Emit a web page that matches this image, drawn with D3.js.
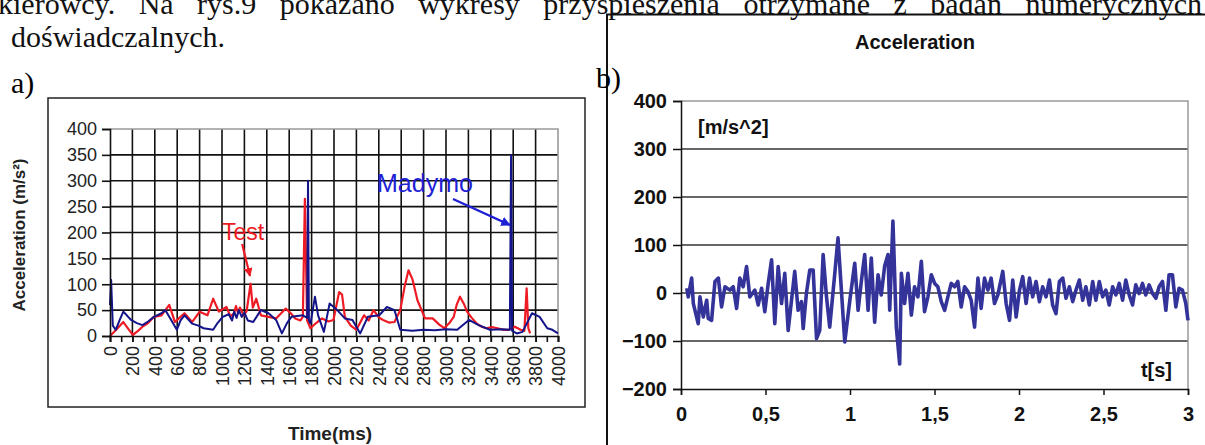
<!DOCTYPE html>
<html>
<head>
<meta charset="utf-8">
<script src="https://cdnjs.cloudflare.com/ajax/libs/d3/7.8.5/d3.min.js"></script>
<style>
body { margin: 0; background: #fff; }
svg { display: block; }
</style>
</head>
<body>
<div id="canvas"></div>
<script>
"use strict"

/* page size */
let svgWidth = 1205;
let svgHeight = 445;

/* text of the page above the figures */
let headerLine1 = "kierowcy. Na rys.9 pokazano wykresy przyspieszenia otrzymane z badań numerycznych";
let headerLine2 = "doświadczalnych.";

/* chart a) - Test vs Madymo, time in ms, acceleration in m/s2 */
let timeTest = [0, 51, 119, 170, 205, 250, 290, 340, 392, 460,
    529, 580, 620, 665, 733, 801, 870, 921, 972, 1040,
    1075, 1108, 1125, 1142, 1160, 1194, 1220, 1255, 1275, 1306,
    1347, 1415, 1483, 1569, 1610, 1654, 1700, 1722, 1740, 1760,
    1790, 1840, 1893, 1950, 1995, 2046, 2072, 2097, 2150, 2200,
    2268, 2310, 2353, 2400, 2438, 2490, 2540, 2592, 2630, 2665,
    2700, 2745, 2813, 2881, 2940, 2984, 3030, 3069, 3095, 3125,
    3160, 3188, 3230, 3274, 3320, 3359, 3410, 3461, 3510, 3563,
    3615, 3666, 3700, 3720, 3735, 3751];
let accTest = [0, 11, 27, 12, 2, 10, 18, 25, 37, 40,
    60, 27, 35, 44, 27, 47, 40, 72, 47, 56,
    38, 44, 58, 45, 55, 40, 48, 101, 55, 72,
    40, 37, 34, 53, 45, 34, 30, 37, 265, 30,
    15, 25, 34, 28, 31, 85, 80, 37, 20, 12,
    40, 30, 50, 36, 31, 26, 27, 50, 95, 127,
    110, 69, 34, 34, 22, 15, 25, 37, 60, 76,
    62, 47, 35, 24, 18, 15, 17, 15, 12, 12,
    18, 12, 10, 92, 15, 5];

let timeMadymo = [0, 10, 25, 51, 85, 119, 150, 188, 240, 290,
    340, 392, 460, 494, 529, 597, 630, 665, 733, 790,
    835, 921, 960, 1006, 1060, 1090, 1108, 1130, 1150, 1176,
    1200, 1230, 1279, 1347, 1415, 1483, 1535, 1580, 1620, 1722,
    1760, 1768, 1776, 1790, 1830, 1858, 1910, 1961, 2029, 2097,
    2165, 2234, 2302, 2404, 2472, 2540, 2592, 2700, 2800, 2900,
    3000, 3100, 3205, 3291, 3393, 3500, 3570, 3581, 3590, 3632,
    3683, 3768, 3836, 3904, 3950, 4000];
let accMadymo = [60, 108, 20, 12, 30, 47, 40, 31, 25, 21,
    28, 37, 44, 50, 37, 12, 30, 40, 24, 20,
    15, 12, 25, 37, 42, 30, 47, 35, 50, 37,
    45, 30, 27, 50, 44, 31, 5, 25, 37, 40,
    35, 300, 30, 24, 76, 40, 8, 63, 50, 34,
    31, 5, 37, 40, 56, 50, 12, 10, 12, 11,
    13, 12, 31, 21, 12, 13, 12, 350, 10, 5,
    8, 44, 37, 15, 12, 5];

let yTicksA = [0, 50, 100, 150, 200, 250, 300, 350, 400];
let xTicksA = [0, 200, 400, 600, 800, 1000, 1200, 1400, 1600, 1800, 2000,
    2200, 2400, 2600, 2800, 3000, 3200, 3400, 3600, 3800, 4000];

/* chart b) - acceleration in m/s^2 over t in s */
let timeB = [0.034, 0.043, 0.063, 0.073, 0.102, 0.112, 0.132, 0.152, 0.161, 0.181,
    0.201, 0.221, 0.240, 0.260, 0.289, 0.309, 0.329, 0.348, 0.368, 0.388,
    0.407, 0.437, 0.457, 0.477, 0.496, 0.516, 0.536, 0.555, 0.575, 0.595,
    0.614, 0.634, 0.654, 0.673, 0.693, 0.713, 0.723, 0.742, 0.762, 0.782,
    0.802, 0.821, 0.841, 0.861, 0.880, 0.910, 0.929, 0.949, 0.969, 0.999,
    1.028, 1.048, 1.068, 1.087, 1.107, 1.126, 1.146, 1.166, 1.185, 1.205,
    1.225, 1.235, 1.254, 1.274, 1.294, 1.304, 1.323, 1.343, 1.363, 1.382,
    1.402, 1.422, 1.441, 1.461, 1.481, 1.501, 1.520, 1.540, 1.560, 1.579,
    1.599, 1.619, 1.638, 1.658, 1.678, 1.698, 1.717, 1.737, 1.757, 1.776,
    1.796, 1.816, 1.835, 1.855, 1.875, 1.904, 1.924, 1.944, 1.963, 1.983,
    2.003, 2.022, 2.042, 2.062, 2.081, 2.101, 2.121, 2.140, 2.160, 2.180,
    2.199, 2.219, 2.239, 2.259, 2.278, 2.298, 2.318, 2.337, 2.357, 2.377,
    2.396, 2.416, 2.436, 2.455, 2.475, 2.495, 2.514, 2.534, 2.554, 2.573,
    2.593, 2.613, 2.632, 2.652, 2.672, 2.691, 2.711, 2.731, 2.750, 2.770,
    2.790, 2.810, 2.829, 2.849, 2.869, 2.888, 2.908, 2.928, 2.947, 2.967,
    2.987, 3.000];
let accB = [10, -8, 31, -22, -64, -8, -50, -15, -53, -57,
    24, 31, -29, 13, 6, 13, -32, 31, 13, 55,
    -8, 6, -25, 10, -39, 20, 69, -64, 55, -22,
    41, -78, -15, 45, -36, -18, -74, -1, 48, 48,
    -95, -78, 80, -8, -71, 41, 115, 6, -102, -15,
    62, -36, 27, 80, -36, 73, -61, 38, -4, 56,
    80, -36, 150, -71, -148, 41, -22, 41, -46, 13,
    -8, 66, -39, -8, 38, 20, 13, -18, -36, -8,
    20, 13, 24, -29, 13, 3, -15, -71, 31, -32,
    31, 6, 31, -22, -4, 45, -22, -57, 27, -50,
    6, 34, -22, 31, -8, 24, -18, 13, -8, 27,
    -25, -43, 24, 31, -11, 13, -18, 6, 27, -15,
    13, -25, 24, -15, 24, -8, 6, -25, 13, -4,
    20, -15, 27, -4, -25, 17, -1, 20, -4, 17,
    -1, -11, 13, 24, -36, 38, 38, -29, 10, 6,
    -22, -57];

let yTicksB = [-200, -100, 0, 100, 200, 300, 400];
let xTicksB = [0, 0.5, 1, 1.5, 2, 2.5, 3];

let svg = d3.select("#canvas")
    .append("svg")
    .attr("width", svgWidth)
    .attr("height", svgHeight);

/* header text, justified to full width with word spacing */
function justifiedLine(str, x, y, targetWidth) {
    let t = svg.append("text")
        .attr("x", x)
        .attr("y", y)
        .attr("font-family", "'Liberation Serif', 'Times New Roman', serif")
        .attr("font-size", 30)
        .attr("fill", "#111")
        .text(str);
    let natural = t.node().getComputedTextLength();
    let spaces = str.split(" ").length - 1;
    if (targetWidth && spaces > 0) {
        t.attr("word-spacing", (targetWidth - natural) / spaces);
    }
    return t;
}
justifiedLine(headerLine1, -2, 14, 1204);
justifiedLine(headerLine2, 11, 47, 0);

/* ========== chart a) ========== */
let xA = d3.scaleLinear().domain([0, 4000]).range([110, 558]);
let yA = d3.scaleLinear().domain([0, 400]).range([336, 129]);

svg.append("text")
    .attr("x", 11)
    .attr("y", 93)
    .attr("font-family", "'Liberation Serif', serif")
    .attr("font-size", 30)
    .text("a)");

/* outer frame */
svg.append("rect")
    .attr("x", 48)
    .attr("y", 98)
    .attr("width", 537)
    .attr("height", 309)
    .attr("fill", "none")
    .attr("stroke", "#222")
    .attr("stroke-width", 1.5);

/* grid */
let gridA = svg.append("g");
gridA.selectAll("line.h")
    .data(yTicksA.slice(1, -1))
    .join("line")
    .attr("x1", xA(0)).attr("x2", xA(4000))
    .attr("y1", d => yA(d)).attr("y2", d => yA(d))
    .attr("stroke", "#111").attr("stroke-width", 1.6);
gridA.selectAll("line.v")
    .data(xTicksA.slice(1, -1))
    .join("line")
    .attr("x1", d => xA(d)).attr("x2", d => xA(d))
    .attr("y1", yA(0)).attr("y2", yA(400))
    .attr("stroke", "#111").attr("stroke-width", 1.6);

/* plot border top / right (gray) */
svg.append("path")
    .attr("d", `M${xA(0)},${yA(400)}H${xA(4000)}V${yA(0)}`)
    .attr("fill", "none")
    .attr("stroke", "#999")
    .attr("stroke-width", 1.6);

/* series */
let lineTest = d3.line()
    .x((d, i) => xA(timeTest[i]))
    .y(d => yA(d));
let lineMadymo = d3.line()
    .x((d, i) => xA(timeMadymo[i]))
    .y(d => yA(d));

svg.append("path")
    .attr("d", lineTest(accTest))
    .attr("fill", "none")
    .attr("stroke", "#ee1b24")
    .attr("stroke-width", 2.2)
    .attr("stroke-linejoin", "round");

svg.append("path")
    .attr("d", lineMadymo(accMadymo))
    .attr("fill", "none")
    .attr("stroke", "#14148a")
    .attr("stroke-width", 2)
    .attr("stroke-linejoin", "round");

/* axes */
let yAxisA = svg.append("g")
    .attr("transform", `translate(${xA(0)},0)`)
    .call(d3.axisLeft(yA).tickValues(yTicksA).tickSize(8).tickPadding(5));
yAxisA.select(".domain").attr("stroke", "#111").attr("stroke-width", 1.6);
yAxisA.selectAll(".tick line").attr("stroke", "#111").attr("stroke-width", 1.6);
yAxisA.selectAll("text")
    .attr("font-family", "Arial, 'Liberation Sans', sans-serif")
    .attr("font-size", 18)
    .attr("fill", "#222");

/* minor ticks every 100 ms */
let xAxisMinor = svg.append("g")
    .attr("transform", `translate(0,${yA(0)})`)
    .call(d3.axisBottom(xA).ticks(40).tickSize(6).tickFormat(""));
xAxisMinor.select(".domain").remove();
xAxisMinor.selectAll(".tick line").attr("stroke", "#111").attr("stroke-width", 1.6);

let xAxisA = svg.append("g")
    .attr("transform", `translate(0,${yA(0)})`)
    .call(d3.axisBottom(xA).tickValues(xTicksA).tickSize(6).tickFormat(d3.format("d")));
xAxisA.select(".domain").attr("stroke", "#111").attr("stroke-width", 1.6);
xAxisA.selectAll(".tick line").attr("stroke", "#111").attr("stroke-width", 1.6);
xAxisA.selectAll("text")
    .attr("font-family", "Arial, 'Liberation Sans', sans-serif")
    .attr("font-size", 18)
    .attr("fill", "#222")
    .attr("transform", "rotate(-90)")
    .attr("text-anchor", "end")
    .attr("x", -10)
    .attr("y", 0)
    .attr("dy", "0.35em");

/* axis titles */
svg.append("text")
    .attr("transform", "translate(25,235) rotate(-90)")
    .attr("text-anchor", "middle")
    .attr("font-family", "Arial, 'Liberation Sans', sans-serif")
    .attr("font-weight", "bold")
    .attr("font-size", 17)
    .attr("fill", "#222")
    .text("Acceleration (m/s²)");

svg.append("text")
    .attr("x", 330)
    .attr("y", 440)
    .attr("text-anchor", "middle")
    .attr("font-family", "Arial, 'Liberation Sans', sans-serif")
    .attr("font-weight", "bold")
    .attr("font-size", 19)
    .attr("fill", "#222")
    .text("Time(ms)");

/* annotations */
let defs = svg.append("defs");
function arrowHead(id, color) {
    defs.append("marker")
        .attr("id", id)
        .attr("viewBox", "0 0 10 10")
        .attr("refX", 9).attr("refY", 5)
        .attr("markerWidth", 4).attr("markerHeight", 4)
        .attr("orient", "auto")
        .append("path")
        .attr("d", "M0,0L10,5L0,10z")
        .attr("fill", color);
}
arrowHead("arrRed", "#ee1b24");
arrowHead("arrBlue", "#1f1fd6");

svg.append("text")
    .attr("x", 222)
    .attr("y", 240)
    .attr("font-family", "Arial, 'Liberation Sans', sans-serif")
    .attr("font-size", 23)
    .attr("fill", "#ee1b24")
    .text("Test");
svg.append("line")
    .attr("x1", xA(1180)).attr("y1", 244)
    .attr("x2", xA(1250)).attr("y2", 276)
    .attr("stroke", "#ee1b24")
    .attr("stroke-width", 2.2)
    .attr("marker-end", "url(#arrRed)");

svg.append("text")
    .attr("x", 377)
    .attr("y", 192)
    .attr("font-family", "Arial, 'Liberation Sans', sans-serif")
    .attr("font-size", 25)
    .attr("fill", "#1f1fd6")
    .text("Madymo");
svg.append("line")
    .attr("x1", 453).attr("y1", 199)
    .attr("x2", xA(3570)).attr("y2", 225)
    .attr("stroke", "#1f1fd6")
    .attr("stroke-width", 2.4)
    .attr("marker-end", "url(#arrBlue)");

/* ========== chart b) ========== */
let xB = d3.scaleLinear().domain([0, 3]).range([681, 1188]);
let yB = d3.scaleLinear().domain([-200, 400]).range([389, 101]);

/* frame (left and top edges visible) */
svg.append("path")
    .attr("d", "M607,445V14.5H1205")
    .attr("fill", "none")
    .attr("stroke", "#111")
    .attr("stroke-width", 2);

svg.append("text")
    .attr("x", 596)
    .attr("y", 88)
    .attr("font-family", "'Liberation Serif', serif")
    .attr("font-size", 30)
    .text("b)");

svg.append("text")
    .attr("x", 915)
    .attr("y", 49)
    .attr("text-anchor", "middle")
    .attr("font-family", "Arial, 'Liberation Sans', sans-serif")
    .attr("font-weight", "bold")
    .attr("font-size", 20)
    .attr("fill", "#111")
    .text("Acceleration");

/* horizontal gridlines */
svg.append("g")
    .selectAll("line")
    .data(yTicksB.slice(1, -1))
    .join("line")
    .attr("x1", xB(0)).attr("x2", xB(3))
    .attr("y1", d => yB(d)).attr("y2", d => yB(d))
    .attr("stroke", "#333")
    .attr("stroke-width", 1.3);

svg.append("path")
    .attr("d", `M${xB(0)},${yB(400)}H${xB(3)}V${yB(-200)}`)
    .attr("fill", "none")
    .attr("stroke", "#999")
    .attr("stroke-width", 1.5);

let lineB = d3.line()
    .x((d, i) => xB(timeB[i]))
    .y(d => yB(d));

svg.append("path")
    .attr("d", lineB(accB))
    .attr("fill", "none")
    .attr("stroke", "#333399")
    .attr("stroke-width", 3.6)
    .attr("stroke-linejoin", "round");

let commaFormat = d => String(d).replace(".", ",");

let yAxisB = svg.append("g")
    .attr("transform", `translate(${xB(0)},0)`)
    .call(d3.axisLeft(yB).tickValues(yTicksB).tickSize(8).tickPadding(6));
yAxisB.select(".domain").attr("stroke", "#111").attr("stroke-width", 1.5);
yAxisB.selectAll(".tick line").attr("stroke", "#111").attr("stroke-width", 1.5);
yAxisB.selectAll("text")
    .attr("font-family", "Arial, 'Liberation Sans', sans-serif")
    .attr("font-weight", "bold")
    .attr("font-size", 20)
    .attr("fill", "#111");

let xAxisB = svg.append("g")
    .attr("transform", `translate(0,${yB(-200)})`)
    .call(d3.axisBottom(xB).tickValues(xTicksB).tickSize(6).tickPadding(12).tickFormat(commaFormat));
xAxisB.select(".domain").attr("stroke", "#111").attr("stroke-width", 1.5);
xAxisB.selectAll(".tick line").attr("stroke", "#111").attr("stroke-width", 1.5);
xAxisB.selectAll("text")
    .attr("font-family", "Arial, 'Liberation Sans', sans-serif")
    .attr("font-weight", "bold")
    .attr("font-size", 20)
    .attr("fill", "#111");

svg.append("text")
    .attr("x", 698)
    .attr("y", 134)
    .attr("font-family", "Arial, 'Liberation Sans', sans-serif")
    .attr("font-weight", "bold")
    .attr("font-size", 20)
    .attr("fill", "#111")
    .text("[m/s^2]");

svg.append("text")
    .attr("x", 1172)
    .attr("y", 377)
    .attr("text-anchor", "end")
    .attr("font-family", "Arial, 'Liberation Sans', sans-serif")
    .attr("font-weight", "bold")
    .attr("font-size", 20)
    .attr("fill", "#111")
    .text("t[s]");
</script>
</body>
</html>
